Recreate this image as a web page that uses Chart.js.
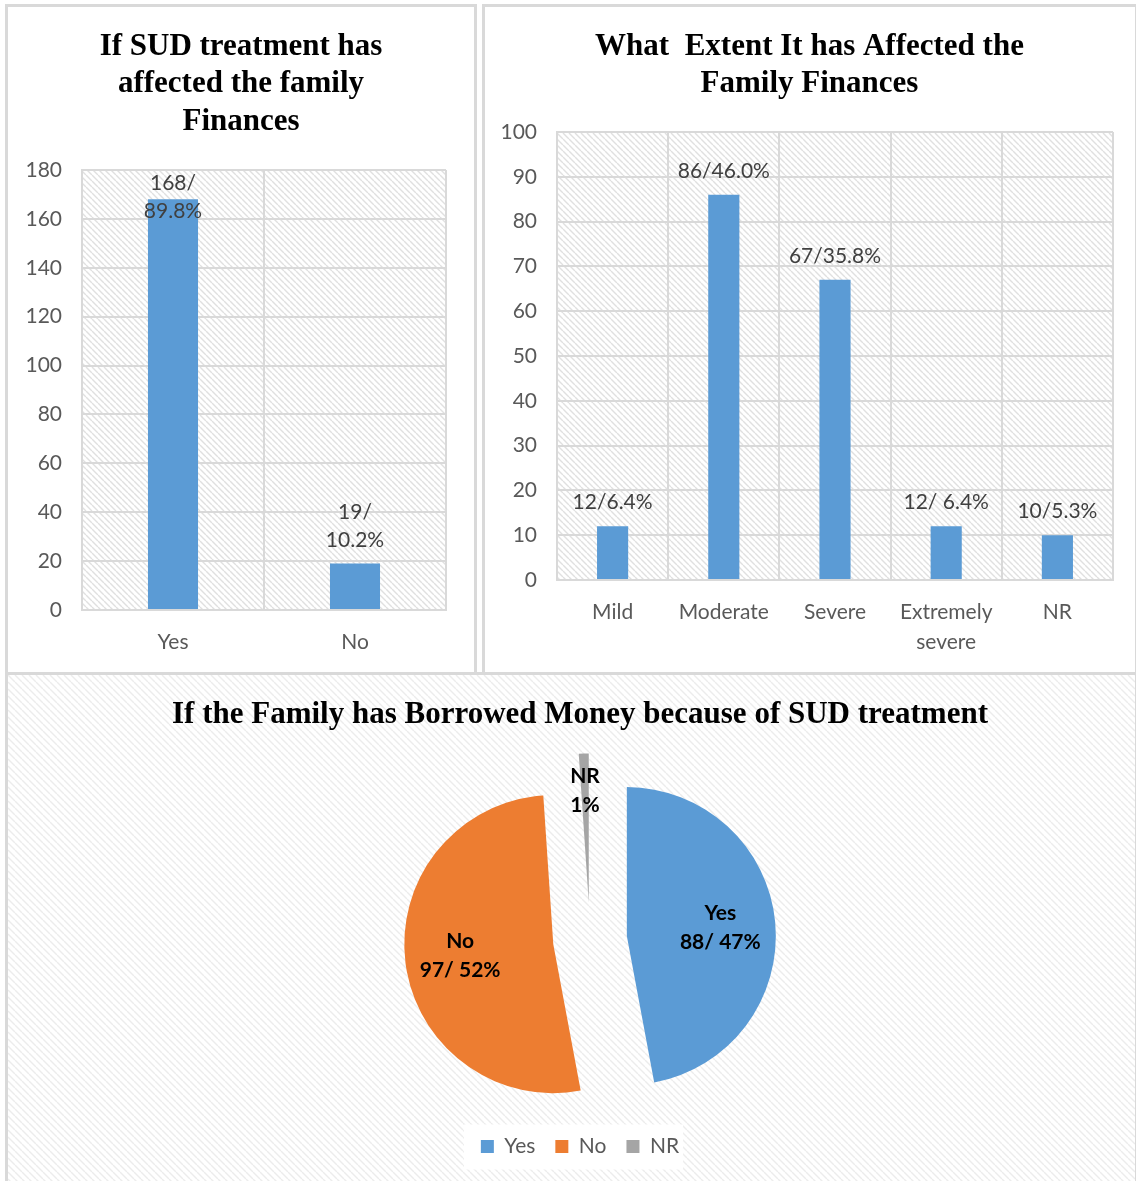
<!DOCTYPE html>
<html><head><meta charset="utf-8">
<script src="https://cdn.jsdelivr.net/npm/chart.js@4.4.1/dist/chart.umd.min.js"></script>
<style>
html,body{margin:0;padding:0;background:#fff;width:1136px;height:1181px;overflow:hidden;}
.panel{position:absolute;box-sizing:border-box;border:3px solid #d9d9d9;}
canvas{position:absolute;}
</style></head><body>
<div class="panel" style="left:5px;top:4px;width:472px;height:671px"></div>
<div class="panel" style="left:482px;top:4px;width:656px;height:671px"></div>
<div class="panel" style="left:5px;top:672px;width:1133px;height:512px"></div>
<canvas id="c1" style="left:8px;top:7px;width:466px;height:663px" width="466" height="663"></canvas>
<canvas id="c2" style="left:485px;top:7px;width:649px;height:663px" width="649" height="663"></canvas>
<canvas id="c3" style="left:8px;top:675px;width:1127px;height:506px" width="1127" height="506"></canvas>
<script>
// ---------- DATA ----------
const finTitle = ['If SUD treatment has', 'affected the family', 'Finances'];
const finCats = ['Yes', 'No'];
const finValues = [168, 19];
const finLabels = [['168/', '89.8%'], ['19/', '10.2%']];
const finTickMax = 180, finTickStep = 20;

const extTitle = ['What  Extent It has Affected the', 'Family Finances'];
const extCats = ['Mild', 'Moderate', 'Severe', ['Extremely', 'severe'], 'NR'];
const extValues = [12, 86, 67, 12, 10];
const extLabels = ['12/6.4%', '86/46.0%', '67/35.8%', '12/ 6.4%', '10/5.3%'];
const extTickMax = 100, extTickStep = 10;

const borTitle = 'If the Family has Borrowed Money because of SUD treatment';
const borCats = ['Yes', 'No', 'NR'];
const borValues = [88, 97, 2];
const borLabels = [['Yes', '88/ 47%'], ['No', '97/ 52%'], ['NR', '1%']];

// ---------- STYLE ----------
const BLUE = '#5B9BD5', ORANGE = '#ED7D31', GREY = '#A5A5A5';
const GRID = '#d9d9d9', TICK = '#595959', LABEL = '#404040';
Chart.defaults.font.family = 'Lato';
Chart.defaults.animation = false;

function hatch(color, size, lw) {
  const c = document.createElement('canvas');
  c.width = c.height = size;
  const g = c.getContext('2d');
  g.strokeStyle = color; g.lineWidth = lw;
  g.beginPath();
  for (let k = -1; k <= 1; k++) { g.moveTo(k * size, 0); g.lineTo(k * size + size, size); }
  g.stroke();
  return g.createPattern(c, 'repeat');
}

// invisible spacer scale (reserves room without shifting full-width title)
function spacer(pos, w) {
  return {type: 'linear', position: pos, display: true,
    grid: {display: false, drawTicks: false}, border: {display: false},
    ticks: {display: false}, afterFit: s => { s.width = w; }};
}

const plotBg = {
  id: 'plotBg',
  beforeDraw(chart) {
    const {ctx, chartArea: a} = chart;
    ctx.save();
    ctx.fillStyle = '#ffffff'; ctx.fillRect(a.left, a.top, a.width, a.height);
    ctx.fillStyle = hatch('#e0e0e0', 6, 1.4);
    ctx.fillRect(a.left, a.top, a.width, a.height);
    ctx.restore();
  }
};

const barLabels = {
  id: 'barLabels',
  afterDatasetsDraw(chart, args, opts) {
    const ctx = chart.ctx, meta = chart.getDatasetMeta(0);
    ctx.save();
    ctx.font = '21px Lato'; ctx.fillStyle = LABEL;
    ctx.textAlign = 'center'; ctx.textBaseline = 'alphabetic';
    const lh = 28;
    meta.data.forEach((bar, i) => {
      const lines = [].concat(opts.labels[i]);
      let first = bar.y - 17 - (lines.length - 1) * lh;
      const minFirst = chart.chartArea.top + 20;
      if (first < minFirst) first = minFirst;
      lines.forEach((t, j) => ctx.fillText(t, bar.x, first + j * lh));
    });
    ctx.restore();
  }
};

function barOptions(title, tickMax, tickStep, labels, yWidth, xHeight, padRight, titleBottom) {
  return {
    responsive: false,
    layout: {padding: 0},
    plugins: {
      legend: {display: false},
      tooltip: {enabled: false},
      title: {display: true, text: title, color: '#000',
        font: {family: 'Liberation Serif', weight: 'bold', size: 31, lineHeight: 1.21},
        padding: {top: 21, bottom: titleBottom}},
      barLabels: {labels: labels}
    },
    scales: {
      x: {
        grid: {color: GRID, lineWidth: 2, drawTicks: false, offset: true},
        border: {color: GRID, width: 2},
        ticks: {color: TICK, font: {size: 21, lineHeight: 1.43}, padding: 17, maxRotation: 0},
        afterFit: s => { s.height = xHeight; }
      },
      y: {
        min: 0, max: tickMax,
        grid: {color: GRID, lineWidth: 2, drawTicks: false},
        border: {color: GRID, width: 2},
        ticks: {stepSize: tickStep, color: TICK, font: {size: 21}, padding: 20},
        afterFit: s => { s.width = yWidth; }
      },
      pad: spacer('right', padRight)
    }
  };
}

new Chart(document.getElementById('c1'), {
  type: 'bar',
  data: {labels: finCats, datasets: [{data: finValues, backgroundColor: BLUE,
    barPercentage: 0.275, categoryPercentage: 1}]},
  options: barOptions(finTitle, finTickMax, finTickStep, finLabels, 74, 60, 28, 29.5),
  plugins: [plotBg, barLabels]
});

new Chart(document.getElementById('c2'), {
  type: 'bar',
  data: {labels: extCats, datasets: [{data: extValues, backgroundColor: BLUE,
    barPercentage: 0.28, categoryPercentage: 1}]},
  options: barOptions(extTitle, extTickMax, extTickStep, extLabels, 72, 90, 21, 29),
  plugins: [plotBg, barLabels]
});

// ---------- PIE ----------
const EXPLODE = 37;
const pieBg = {
  id: 'pieBg',
  beforeDraw(chart) {
    const ctx = chart.ctx;
    ctx.save();
    ctx.fillStyle = '#ffffff'; ctx.fillRect(0, 0, chart.width, chart.height);
    ctx.fillStyle = hatch('#ececec', 7, 1.4);
    ctx.fillRect(0, 0, chart.width, chart.height);
    const hb = chart.legend.legendHitBoxes;
    if (hb && hb.length) {
      const l = hb[0].left - 17, r = hb[hb.length - 1].left + hb[hb.length - 1].width + 4;
      const cy = hb[0].top + hb[0].height / 2;
      ctx.fillStyle = '#ffffff';
      ctx.fillRect(l, cy - 22, r - l, 45);
    }
    ctx.restore();
  }
};
const explode = {
  id: 'explode',
  beforeDatasetDraw(chart, args) {
    const ctx = chart.ctx, meta = args.meta;
    meta.data.forEach(arc => {
      const mid = (arc.startAngle + arc.endAngle) / 2;
      ctx.save();
      ctx.translate(Math.cos(mid) * EXPLODE, Math.sin(mid) * EXPLODE);
      arc.draw(ctx);
      ctx.restore();
    });
    return false;
  }
};
const pieLabels = {
  id: 'pieLabels',
  afterDatasetsDraw(chart, args, opts) {
    const ctx = chart.ctx, meta = chart.getDatasetMeta(0);
    ctx.save();
    ctx.font = 'bold 21px Lato'; ctx.fillStyle = '#000';
    ctx.textAlign = 'center'; ctx.textBaseline = 'middle';
    meta.data.forEach((arc, i) => {
      const mid = (arc.startAngle + arc.endAngle) / 2;
      const frac = (arc.endAngle - arc.startAngle) < 0.2 ? 0.75 : 0.63;
      const d = EXPLODE + frac * arc.outerRadius;
      const x = arc.x + Math.cos(mid) * d, y = arc.y + Math.sin(mid) * d;
      const lines = opts.labels[i];
      lines.forEach((t, j) => ctx.fillText(t, x, y + (j - (lines.length - 1) / 2) * 29));
    });
    ctx.restore();
  }
};

new Chart(document.getElementById('c3'), {
  type: 'pie',
  data: {labels: borCats, datasets: [{data: borValues,
    backgroundColor: [BLUE, ORANGE, GREY], borderWidth: 0}]},
  options: {
    responsive: false,
    radius: 149,
    layout: {padding: {left: 17, right: 0, top: 0, bottom: 14}},
    scales: {pad: spacer('left', 20)},
    plugins: {
      tooltip: {enabled: false},
      title: {display: true, text: borTitle, color: '#000',
        font: {family: 'Liberation Serif', weight: 'bold', size: 31, lineHeight: 1.21},
        padding: {top: 21, bottom: 29.5}},
      legend: {position: 'bottom',
        labels: {color: TICK, font: {size: 21}, boxWidth: 13, boxHeight: 13, padding: 20}},
      pieLabels: {labels: borLabels}
    }
  },
  plugins: [pieBg, explode, pieLabels]
});
</script>
</body></html>
